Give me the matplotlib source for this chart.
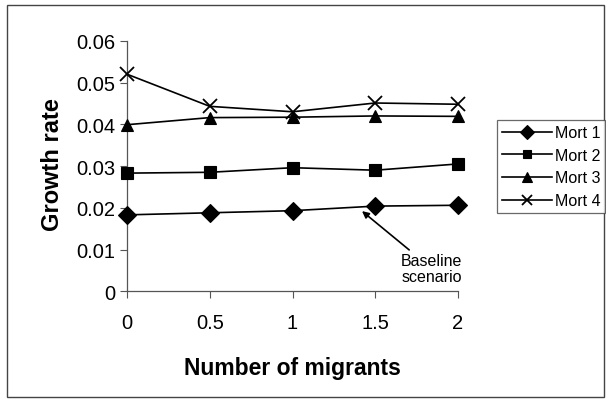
import matplotlib.pyplot as plt
from matplotlib.patches import Rectangle

# ---------- Data ----------
migrants = [0, 0.5, 1, 1.5, 2]
mort1 = [0.0183, 0.0188, 0.0193, 0.0204, 0.0206]
mort2 = [0.0283, 0.0285, 0.0296, 0.0290, 0.0305]
mort3 = [0.0399, 0.0416, 0.0417, 0.0420, 0.0419]
mort4 = [0.0520, 0.0443, 0.0430, 0.0451, 0.0448]
series_names = ["Mort 1", "Mort 2", "Mort 3", "Mort 4"]
y_ticks = [0, 0.01, 0.02, 0.03, 0.04, 0.05, 0.06]
y_tick_labels = ["0", "0.01", "0.02", "0.03", "0.04", "0.05", "0.06"]
x_tick_labels = ["0", "0.5", "1", "1.5", "2"]

plt.rcParams["font.family"] = ["Liberation Sans", "DejaVu Sans"]

fig = plt.figure(figsize=(6.06, 4.02), dpi=100)
ax = fig.add_axes([0.2096, 0.273, 0.5462, 0.623])

# outer chart border
fig.patches.append(Rectangle((0.011, 0.01), 0.986, 0.975, transform=fig.transFigure,
                             fill=False, edgecolor="#444444", linewidth=1.0))

markers = [("D", 9), ("s", 8), ("^", 9), ("x", 10)]
for vals, name, (mk, ms) in zip([mort1, mort2, mort3, mort4], series_names, markers):
    ax.plot(migrants, vals, color="black", linewidth=1.2, marker=mk, markersize=ms,
            markeredgewidth=1.3 if mk == "x" else 0.8, label=name, clip_on=False, zorder=3)

ax.set_xlim(0, 2)
ax.set_ylim(0, 0.06)
ax.set_xticks(migrants)
ax.set_xticklabels(x_tick_labels)
ax.set_yticks(y_ticks)
ax.set_yticklabels(y_tick_labels)
ax.tick_params(labelsize=14.5, length=5, width=0.8, color="#555555")
ax.tick_params(axis="x", pad=11)

for side in ["top", "right"]:
    ax.spines[side].set_visible(False)
for side in ["left", "bottom"]:
    ax.spines[side].set_color("#555555")
    ax.spines[side].set_linewidth(0.9)

ax.set_xlabel("Number of migrants", fontsize=16.5, fontweight="bold", labelpad=17)
ax.set_ylabel("Growth rate", fontsize=17, fontweight="bold", labelpad=14)
ax.yaxis.set_label_coords(-0.19, 0.51)

ax.annotate("Baseline\nscenario", xy=(1.42, 0.0192), xytext=(1.84, 0.0055),
            ha="center", va="center", fontsize=11.5, linespacing=1.1,
            arrowprops=dict(arrowstyle="-|>", color="black", lw=1.2,
                            shrinkA=0, shrinkB=0, mutation_scale=10))

leg = fig.legend(*ax.get_legend_handles_labels(), loc="upper left",
                 bbox_to_anchor=(0.820, 0.699), fontsize=11.5,
                 frameon=True, fancybox=False, edgecolor="#444444",
                 handlelength=3.1, handletextpad=0.2, labelspacing=0.48,
                 borderpad=0.32, borderaxespad=0, markerscale=0.75)
leg.get_frame().set_linewidth(0.9)

plt.savefig("out.png", dpi=100)
